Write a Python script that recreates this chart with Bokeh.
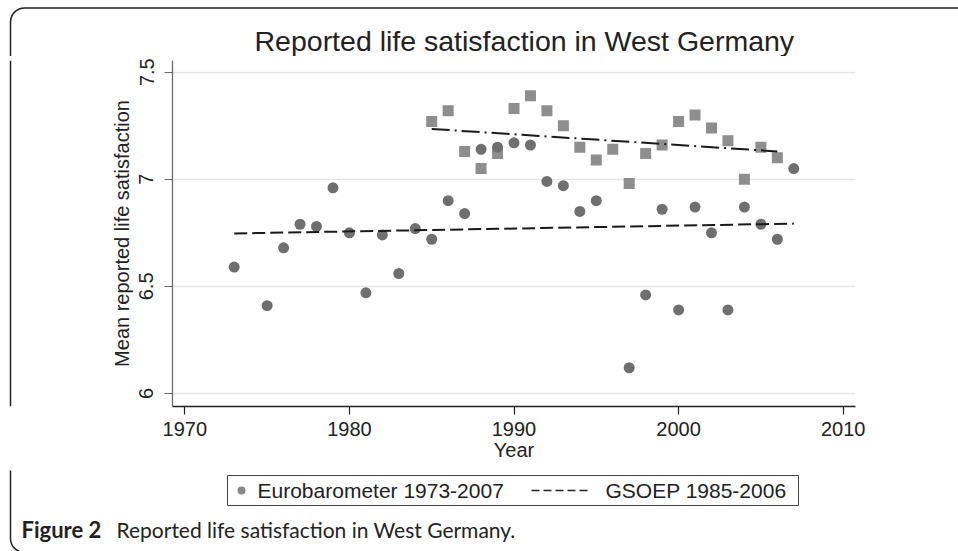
from bokeh.plotting import figure
from bokeh.models import Range1d, FixedTicker, Label, BoxAnnotation, Span
from bokeh.layouts import column, row
from bokeh.embed import file_html
from bokeh.resources import INLINE

# ---------------- data ----------------
euro_years = [1973, 1975, 1976, 1977, 1978, 1979, 1980, 1981, 1982, 1983, 1984,
              1985, 1986, 1987, 1988, 1989, 1990, 1991, 1992, 1993, 1994, 1995,
              1997, 1998, 1999, 2000, 2001, 2002, 2003, 2004, 2005, 2006, 2007]
euro_vals = [6.59, 6.41, 6.68, 6.79, 6.78, 6.96, 6.75, 6.47, 6.74, 6.56, 6.77,
             6.72, 6.90, 6.84, 7.14, 7.15, 7.17, 7.16, 6.99, 6.97, 6.85, 6.90,
             6.12, 6.46, 6.86, 6.39, 6.87, 6.75, 6.39, 6.87, 6.79, 6.72, 7.05]

gsoep_years = [1985, 1986, 1987, 1988, 1989, 1990, 1991, 1992, 1993, 1994, 1995,
               1996, 1997, 1998, 1999, 2000, 2001, 2002, 2003, 2004, 2005, 2006]
gsoep_vals = [7.27, 7.32, 7.13, 7.05, 7.12, 7.33, 7.39, 7.32, 7.25, 7.15, 7.09,
              7.14, 6.98, 7.12, 7.16, 7.27, 7.30, 7.24, 7.18, 7.00, 7.15, 7.10]

euro_fit_years = [1973, 2007]
euro_fit_vals = [6.747, 6.793]
gsoep_fit_years = [1985, 2006]
gsoep_fit_vals = [7.235, 7.130]

x_ticks = [1970, 1980, 1990, 2000, 2010]
y_ticks = [6, 6.5, 7, 7.5]
y_tick_labels = ["6", "6.5", "7", "7.5"]

title_text = "Reported life satisfaction in West Germany"
x_label = "Year"
y_label = "Mean reported life satisfaction"
legend_labels = ["Eurobarometer 1973-2007", "GSOEP 1985-2006"]
caption_bold = "Figure 2"
caption_text = "Reported life satisfaction in West Germany."

# ---------------- layout constants (page pixels) ----------------
PW, PH = 958, 551
HEAD_H = 56          # header strip height
MAIN_B = 470         # bottom of the main figure
STRIP_W = 14         # left strip width
F_L, F_R, F_T, F_B = 172, 855, 60, 406  # plot frame
X0, X1 = 1969.25, 2010.75
Y0, Y1 = 5.939, 7.5546

FONT = "Liberation Sans"
TXT = "#222222"
BORDER = "#222222"
BX, BY, BR = 10, 7.5, 14   # outer border left, top, radius


def blank(w, h, y_top, y_bot, x_left=0):
    f = figure(width=w, height=h, output_backend="svg", toolbar_location=None,
               x_range=Range1d(x_left, x_left + w), y_range=Range1d(y_bot, y_top),
               x_axis_type=None, y_axis_type=None,
               min_border=0, min_border_left=0, min_border_right=0,
               min_border_top=0, min_border_bottom=0)
    f.outline_line_color = None
    f.background_fill_color = "white"
    f.border_fill_color = "white"
    f.grid.visible = False
    return f


# ---------------- header (title) ----------------
head = blank(PW, HEAD_H, 0, HEAD_H)
head.add_layout(BoxAnnotation(left=BX, right=PW + 200, top=BY, bottom=PH + 200,
                              fill_color=None, line_color=BORDER, line_alpha=1.0,
                              line_width=1.5, border_radius=BR))
head.add_layout(Label(x=254, y=40, text=title_text, text_align="left",
                      text_baseline="alphabetic", text_font=FONT,
                      text_font_size="28.5px", text_color=TXT))

# ---------------- left strip (border edge) ----------------
strip = blank(STRIP_W, MAIN_B - HEAD_H, HEAD_H, MAIN_B)
strip.add_layout(Span(location=BX, dimension="height", line_color=BORDER,
                      line_alpha=1.0, line_width=1.5))

# ---------------- main plot ----------------
MW, MH = PW - STRIP_W, MAIN_B - HEAD_H
p = figure(width=MW, height=MH, output_backend="svg", toolbar_location=None,
           x_range=Range1d(X0, X1), y_range=Range1d(Y0, Y1),
           min_border_left=F_L - STRIP_W, min_border_right=PW - F_R,
           min_border_top=F_T - HEAD_H, min_border_bottom=MAIN_B - F_B)
p.outline_line_color = None
p.background_fill_color = "white"
p.border_fill_color = "white"

p.xaxis.ticker = FixedTicker(ticks=x_ticks)
p.yaxis.ticker = FixedTicker(ticks=y_ticks)
p.yaxis.major_label_overrides = {t: l for t, l in zip(y_ticks, y_tick_labels)}
p.yaxis.major_label_orientation = "vertical"
for ax in (p.xaxis[0], p.yaxis[0]):
    ax.minor_tick_line_color = None
    ax.major_tick_in = 0
    ax.major_tick_out = 8
    ax.major_label_text_font = FONT
    ax.major_label_text_font_size = "20px"
    ax.major_label_text_color = TXT
    ax.axis_label_text_font = FONT
    ax.axis_label_text_font_size = "20px"
    ax.axis_label_text_font_style = "normal"
    ax.axis_label_text_color = TXT
    ax.major_tick_line_width = 1.2
    ax.axis_line_width = 1.3
p.xaxis.axis_label = x_label
p.yaxis.axis_label = y_label
p.xaxis.axis_line_color = "#222222"
p.xaxis.major_tick_line_color = "#222222"
p.yaxis.axis_line_color = "#6a6a6a"
p.yaxis.major_tick_line_color = "#6a6a6a"
p.xaxis.major_label_standoff = 7
p.xaxis.axis_label_standoff = 0
p.yaxis.major_label_standoff = 11
p.yaxis.axis_label_standoff = 4

p.xgrid.grid_line_color = None
p.ygrid.grid_line_color = "#e6e6e6"
p.ygrid.grid_line_width = 1.5

p.scatter(gsoep_years, gsoep_vals, marker="square", size=11,
          fill_color="#8e8e8e", line_color=None)
p.scatter(euro_years, euro_vals, marker="circle", size=11,
          fill_color="#6f6f6f", line_color=None)
p.line(euro_fit_years, euro_fit_vals, line_dash="13 5", line_width=2,
       line_color="#1a1a1a")
p.line(gsoep_fit_years, gsoep_fit_vals, line_dash="18 5 2 5", line_width=2,
       line_color="#1a1a1a")

# ---------------- footer (legend + caption) ----------------
foot = blank(PW, PH - MAIN_B, MAIN_B, PH)
foot.add_layout(BoxAnnotation(left=BX, right=PW + 200, top=-200, bottom=PH + 1,
                              fill_color=None, line_color=BORDER, line_alpha=1.0,
                              line_width=1.5, border_radius=BR))
foot.add_layout(BoxAnnotation(left=227, right=798, top=475, bottom=505,
                              fill_color="white", fill_alpha=1.0,
                              line_color="#444444", line_alpha=1.0, line_width=1,
                              level="underlay"))
foot.scatter([241], [490], marker="circle", size=8, fill_color="#8a8a8a",
             line_color=None)
foot.line([531, 591], [490, 490], line_dash="8 4", line_width=1.5,
          line_color="#222222")
foot.add_layout(Label(x=257, y=490, text=legend_labels[0],
                      text_baseline="alphabetic", text_font=FONT,
                      text_font_size="21px", text_color=TXT))
foot.add_layout(Label(x=605, y=490, text=legend_labels[1],
                      text_baseline="alphabetic", text_font=FONT,
                      text_font_size="21px", text_color=TXT))
foot.add_layout(Label(x=21, y=529, text=caption_bold, text_baseline="alphabetic",
                      text_font="Lato", text_font_style="bold",
                      text_font_size="22px", text_color=TXT))
foot.add_layout(Label(x=116, y=529, text=caption_text, text_baseline="alphabetic",
                      text_font="Lato", text_font_size="21px", text_color=TXT))

layout = column(head, row(strip, p), foot)
open("out.html", "w").write(file_html(layout, INLINE))
